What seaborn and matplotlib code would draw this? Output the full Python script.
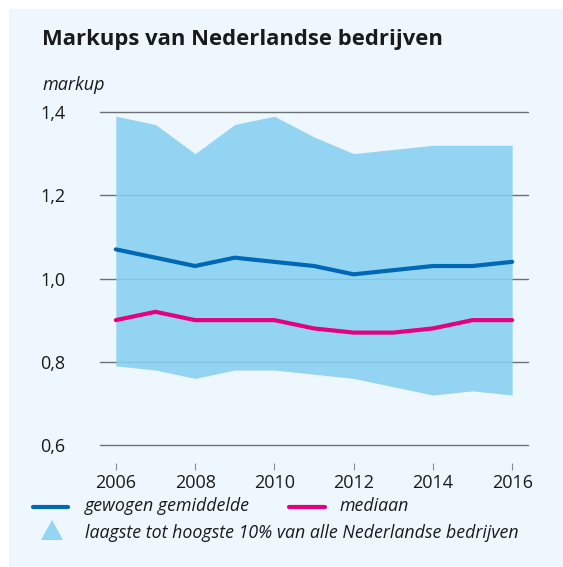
import numpy as np
import matplotlib.pyplot as plt
import seaborn as sns
from matplotlib.patches import Rectangle, Polygon
from matplotlib.lines import Line2D
import pandas as pd

years = [2006, 2007, 2008, 2009, 2010, 2011, 2012, 2013, 2014, 2015, 2016]
gewogen = [1.07, 1.05, 1.03, 1.05, 1.04, 1.03, 1.01, 1.02, 1.03, 1.03, 1.04]
mediaan = [0.90, 0.92, 0.90, 0.90, 0.90, 0.88, 0.87, 0.87, 0.88, 0.90, 0.90]
hoog10 = [1.39, 1.37, 1.30, 1.37, 1.39, 1.34, 1.30, 1.31, 1.32, 1.32, 1.32]
laag10 = [0.79, 0.78, 0.76, 0.78, 0.78, 0.77, 0.76, 0.74, 0.72, 0.73, 0.72]
yticks = [0.6, 0.8, 1.0, 1.2, 1.4]
xticks = [2006, 2008, 2010, 2012, 2014, 2016]

df = pd.DataFrame({'jaar': years, 'gewogen': gewogen, 'mediaan': mediaan})

sns.set_style('white')
plt.rcParams['font.family'] = ['Open Sans', 'DejaVu Sans']

bg = '#eef7fd'
blue = '#0068b4'
pink = '#e5007d'
band = '#88d0f2'
grid = '#5f6166'
txt = '#1a1a1a'

fig = plt.figure(figsize=(5.63, 5.67), dpi=100)
fig.patch.set_facecolor('white')
fig.patches.append(Rectangle((9/563, 0), 1, 1 - 9/567, transform=fig.transFigure,
                             facecolor=bg, edgecolor='none', zorder=-5))

ax = fig.add_axes([100/563, 1 - 445/567, 428/563, 333/567])
ax.set_facecolor('none')

for y in yticks:
    ax.axhline(y, color=grid, lw=1.0, alpha=0.9, zorder=1, clip_on=False)
# band over the gridlines, a little see-through
ax.fill_between(years, laag10, hoog10, color=band, alpha=0.88, lw=0, zorder=2)
sns.lineplot(data=df, x='jaar', y='gewogen', color=blue, lw=3, ax=ax, zorder=3)
sns.lineplot(data=df, x='jaar', y='mediaan', color=pink, lw=3, ax=ax, zorder=3)

ax.set_xlim(2005.6, 2016.4)
ax.set_ylim(0.6, 1.4)
for s in ax.spines.values():
    s.set_visible(False)
ax.spines['bottom'].set_position(('outward', 13))
ax.set_xticks(xticks)
ax.set_xticklabels([str(x) for x in xticks], fontsize=13, color=txt)
ax.set_yticks(yticks)
ax.set_yticklabels([f'{y:.1f}'.replace('.', ',') for y in yticks], fontsize=13, color=txt)
ax.tick_params(axis='x', length=5, width=0.8, color='#8a8a8a', pad=3, direction='out', bottom=True)
ax.tick_params(axis='y', length=0, pad=25)
ax.set_xlabel('')
ax.set_ylabel('')

fig.text(42/563, 1 - 40/567, 'Markups van Nederlandse bedrijven', fontsize=15.8,
         fontweight='bold', color=txt, va='center', ha='left')
fig.text(42/563, 1 - 85/567, 'markup', fontsize=13, style='italic', color=txt,
         va='center', ha='left')

# legend
fig.lines.append(Line2D([33/563, 68/563], [1 - 507/567] * 2, transform=fig.transFigure,
                        color=blue, lw=3, solid_capstyle='round'))
fig.text(85/563, 1 - 506/567, 'gewogen gemiddelde', fontsize=12.8, style='italic',
         color=txt, va='center', ha='left')
fig.lines.append(Line2D([289/563, 325/563], [1 - 507/567] * 2, transform=fig.transFigure,
                        color=pink, lw=3, solid_capstyle='round'))
fig.text(340/563, 1 - 506/567, 'mediaan', fontsize=12.8, style='italic',
         color=txt, va='center', ha='left')
fig.patches.append(Polygon([[41/563, 1 - 540/567], [63/563, 1 - 540/567], [52/563, 1 - 520/567]],
                           closed=True, transform=fig.transFigure, facecolor='#94d5f3', edgecolor='none'))
fig.text(85/563, 1 - 533/567, 'laagste tot hoogste 10% van alle Nederlandse bedrijven',
         fontsize=12.8, style='italic', color=txt, va='center', ha='left')

fig.savefig('out.png', dpi=100, facecolor=fig.get_facecolor())
